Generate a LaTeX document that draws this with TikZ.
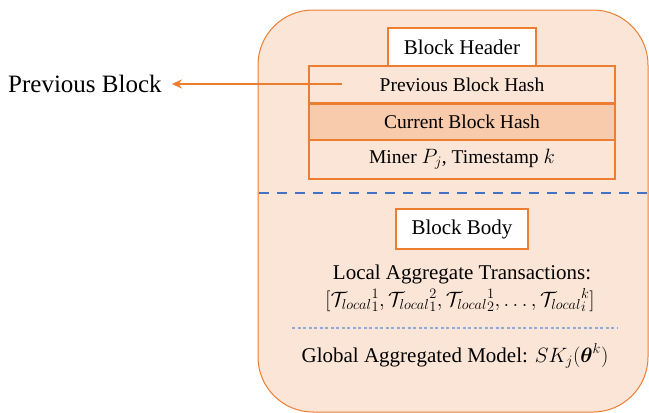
\documentclass[tikz,border=0pt]{standalone}
\usepackage{amsmath}
\usepackage{fontspec}
\setmainfont{Liberation Serif}
\usetikzlibrary{arrows.meta}
\definecolor{ofill}{HTML}{FBE5D6}
\definecolor{ostroke}{HTML}{ED7D31}
\definecolor{odark}{HTML}{F8CBAD}
\definecolor{bdash}{HTML}{4472C4}
\definecolor{bdot}{HTML}{8FAADC}
\tikzset{
  rowbox/.style={draw=ostroke, line width=1.6pt, minimum width=306pt, minimum height=37pt, inner sep=0pt, font=\fontsize{19.5}{23}\selectfont},
  titlebox/.style={draw=ostroke, line width=1.6pt, fill=white, inner sep=0pt, font=\fontsize{21}{25}\selectfont},
  plaintext/.style={inner sep=0pt, font=\fontsize{21}{25}\selectfont},
}
\begin{document}
\begin{tikzpicture}[x=1pt,y=-1pt]
\useasboundingbox (0,0) rectangle (649,413);
\draw[draw=ostroke, fill=ofill, line width=1pt, rounded corners=55pt] (258,10) rectangle (648,412);
\node[titlebox, minimum width=148pt, minimum height=38pt] (hdr) at (462,47) {Block Header};
\node[rowbox, fill=ofill] (prevhash) at (462,84.5) {Previous Block Hash};
\node[rowbox, fill=odark] (curhash) at (462,121.5) {Current Block Hash};
\node[rowbox, fill=ofill, minimum height=39pt] (miner) at (462,159.5) {Miner $P_j$, Timestamp $k$};
\draw[ostroke, line width=2.6pt] (prevhash.south west) -- (prevhash.south east);
\draw[bdash, line width=2.4pt, dash pattern=on 10pt off 8pt] (259,193) -- (649,193);
\node[titlebox, minimum width=132pt, minimum height=40pt] (body) at (462,229) {Block Body};
\node[plaintext] (lat) at (462,274) {Local Aggregate Transactions:};
\node[plaintext, font=\fontsize{22.5}{26}\selectfont] (latmath) at (460,300) {$[{\mathcal{T}_{local}}_1^1, {\mathcal{T}_{local}}_1^2, {\mathcal{T}_{local}}_2^1, \ldots, {\mathcal{T}_{local}}_i^k]$};
\draw[bdot, line width=1.2pt, dash pattern=on 3pt off 2.5pt] (292,328) -- (618,328);
\node[plaintext] (glob) at (455,356) {Global Aggregated Model: $SK_j(\boldsymbol{\theta}^k)$};
\node[inner sep=0pt, font=\fontsize{25}{30}\selectfont, anchor=west] (prevblock) at (8,84) {Previous Block};
\coordinate (src) at (342,84);
\draw[ostroke, line width=2pt, -{Stealth[length=10pt,width=9pt]}] (src) -- ([xshift=10pt]prevblock.east);
\end{tikzpicture}
\end{document}
